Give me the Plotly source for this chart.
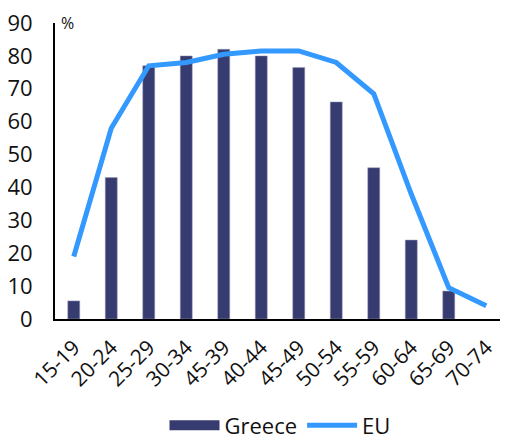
import plotly.graph_objects as go

age_groups = ["15-19", "20-24", "25-29", "30-34", "45-39", "40-44",
              "45-49", "50-54", "55-59", "60-64", "65-69", "70-74"]
greece = [5.5, 43, 77, 80, 82, 80, 76.5, 66, 46, 24, 8.5, None]
eu = [19, 58, 77, 78, 80.5, 81.5, 81.5, 78, 68.5, 38, 9.5, 4]

bar_color = "#363C70"
line_color = "#3399FF"

fig = go.Figure()

fig.add_trace(go.Bar(
    x=age_groups,
    y=greece,
    name="Greece",
    marker=dict(color=bar_color, line=dict(color="#9A9DB8", width=0.5)),
    width=0.32,
    showlegend=False,
))

# legend entry only: wide swatch like the original
fig.add_trace(go.Scatter(
    x=[None], y=[None],
    name="Greece",
    mode="lines",
    line=dict(color=bar_color, width=12),
))

fig.add_trace(go.Scatter(
    x=age_groups,
    y=eu,
    name="EU",
    mode="lines",
    line=dict(color=line_color, width=5),
))

fig.add_annotation(
    text="%", x=0, y=1, xref="paper", yref="paper",
    xanchor="left", yanchor="middle", xshift=4,
    showarrow=False, font=dict(size=16, color="#111111"),
)

# page has an 8px body margin, so the figure is a bit smaller than the window
fig.update_layout(
    width=500,
    height=431,
    plot_bgcolor="white",
    paper_bgcolor="white",
    font=dict(family="Open Sans, DejaVu Sans, sans-serif", color="#111111"),
    margin=dict(l=47, r=3, t=15, b=120, autoexpand=False),
    showlegend=True,
    legend=dict(
        orientation="h",
        x=0.5, xanchor="center",
        y=-0.36, yanchor="middle",
        font=dict(size=22),
        itemwidth=50,
    ),
    xaxis=dict(
        type="category",
        showline=True, linecolor="black", linewidth=2,
        tickangle=-45,
        tickfont=dict(size=21),
        ticklabelstandoff=6,
        showgrid=False,
        ticks="",
        automargin=False,
    ),
    yaxis=dict(
        range=[0, 90],
        dtick=10,
        showline=True, linecolor="black", linewidth=2,
        showgrid=False,
        tickfont=dict(size=22),
        ticks="",
        ticklabelstandoff=16,
        ticklabeloverflow="allow",
        zeroline=False,
        automargin=False,
    ),
)

fig.write_html("out.html")
